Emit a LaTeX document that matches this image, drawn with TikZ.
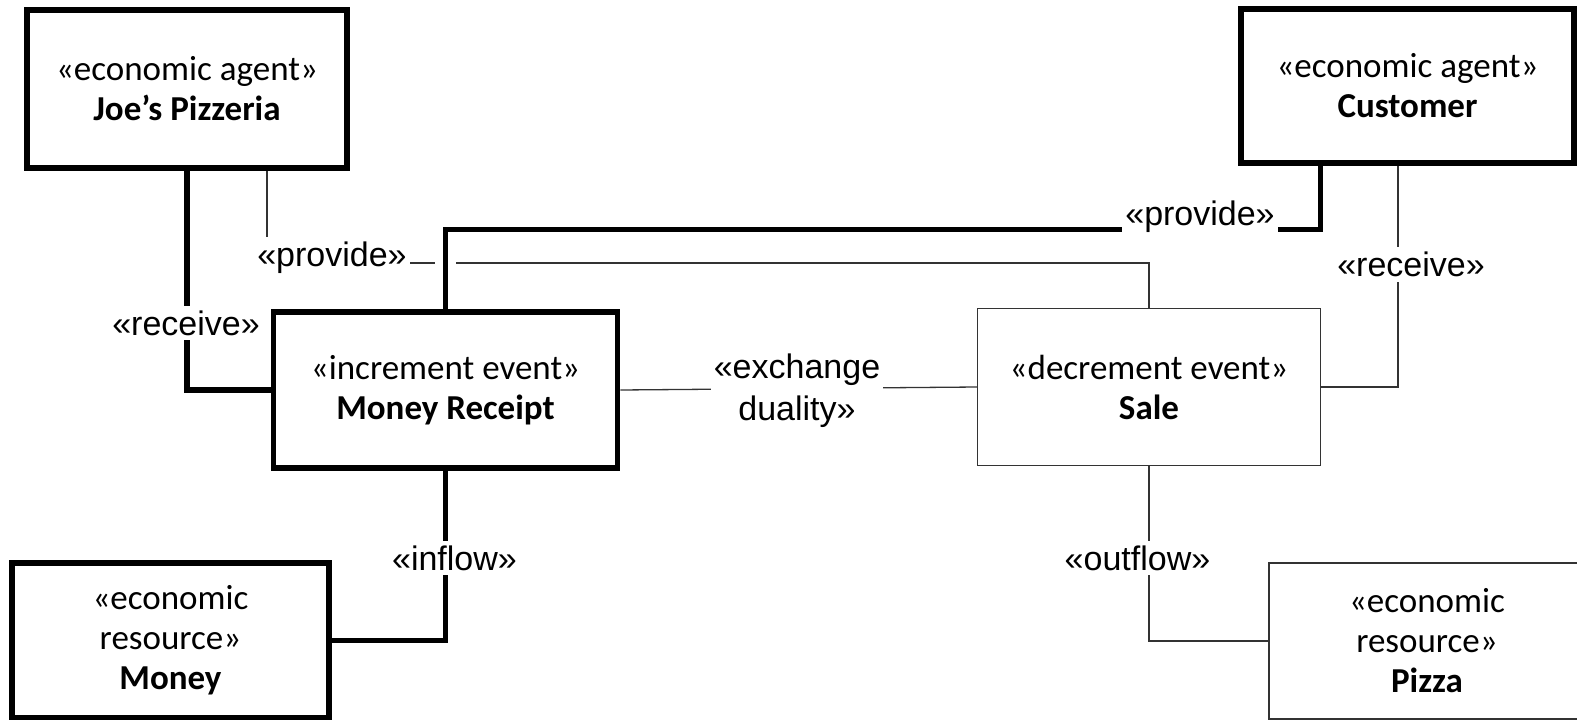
\documentclass[tikz,border=0pt]{standalone}
\usepackage{fontspec}
\setmainfont{Carlito}
\newfontfamily\arialf{Liberation Sans}
\usetikzlibrary{backgrounds,calc}
\begin{document}
\begin{tikzpicture}[x=1pt,y=-1pt,
  boxtext/.style={align=center, font=\fontsize{35}{40}\selectfont, inner sep=0pt},
  thickbox/.style={boxtext, draw=black, line width=5.5pt},
  thinbox/.style={boxtext, draw=black!80, line width=1.3pt},
  thickline/.style={draw=black, line width=5.5pt},
  thinline/.style={draw=black!80, line width=1.3pt},
  gapline/.style={thickline, preaction={draw=white, line width=21pt}},
  lab/.style={fill=white, font=\arialf\fontsize{34}{42}\selectfont, inner xsep=3pt, inner ysep=5pt, align=center}
]
\useasboundingbox (0,0) rectangle (1577,720);
\clip (0,0) rectangle (1577,720);

\node[thickbox, minimum width=320pt, minimum height=158pt] (joe) at (187,89) {«economic agent»\\\textbf{Joe’s Pizzeria}};
\node[thickbox, minimum width=333pt, minimum height=154pt] (cust) at (1407.5,86) {«economic agent»\\\textbf{Customer}};
\node[thickbox, minimum width=344pt, minimum height=156pt] (MR) at (445.5,390) {«increment event»\\\textbf{Money Receipt}};
\node[thinbox, minimum width=343pt, minimum height=157pt] (sale) at (1149,387) {«decrement event»\\\textbf{Sale}};
\node[thickbox, minimum width=317pt, minimum height=155pt] (money) at (170.5,640.5) {«economic\\resource»\\\textbf{Money}};
\node[thinbox, minimum width=316pt, minimum height=156pt] (pizza) at (1427,641) {«economic\\resource»\\\textbf{Pizza}};

\begin{pgfonlayer}{background}
  % thin connectors
  \coordinate (j1) at ($(joe.south)+(80,0)$);
  \coordinate (s1) at ($(sale.north)+(0,-45)$);
  \draw[thinline] (j1) |- (s1) -- (sale.north);
  \coordinate (c2) at ($(cust.south)+(-9.5,0)$);
  \draw[thinline] (c2) |- (sale.east);
  \draw[thinline] (MR.east) -- (sale.west);
  \draw[thinline] (sale.south) |- (pizza.west);
  % thick connectors
  \draw[thickline] (joe.south) |- (MR.west);
  \coordinate (c1) at ($(cust.south)+(-87,0)$);
  \coordinate (m1) at ($(MR.north)+(0,-80)$);
  \draw[gapline] (c1) |- (m1) -- (MR.north);
  \draw[thickline] (MR.south) |- (money.east);
  % labels
  \node[lab] (l1) at (186,323) {«receive»};
  \node[lab] (l2) at (332,258) {«provide»};
  \node[lab] (l3) at (1200,217) {«provide»};
  \node[lab] (l4) at (1411,264.5) {«receive»};
  \node[lab] (l5) at (797,391) {«exchange\\duality»};
  \node[lab] (l6) at (454.5,558) {«inflow»};
  \node[lab] (l7) at (1137.5,558) {«outflow»};
\end{pgfonlayer}
\end{tikzpicture}
\end{document}
